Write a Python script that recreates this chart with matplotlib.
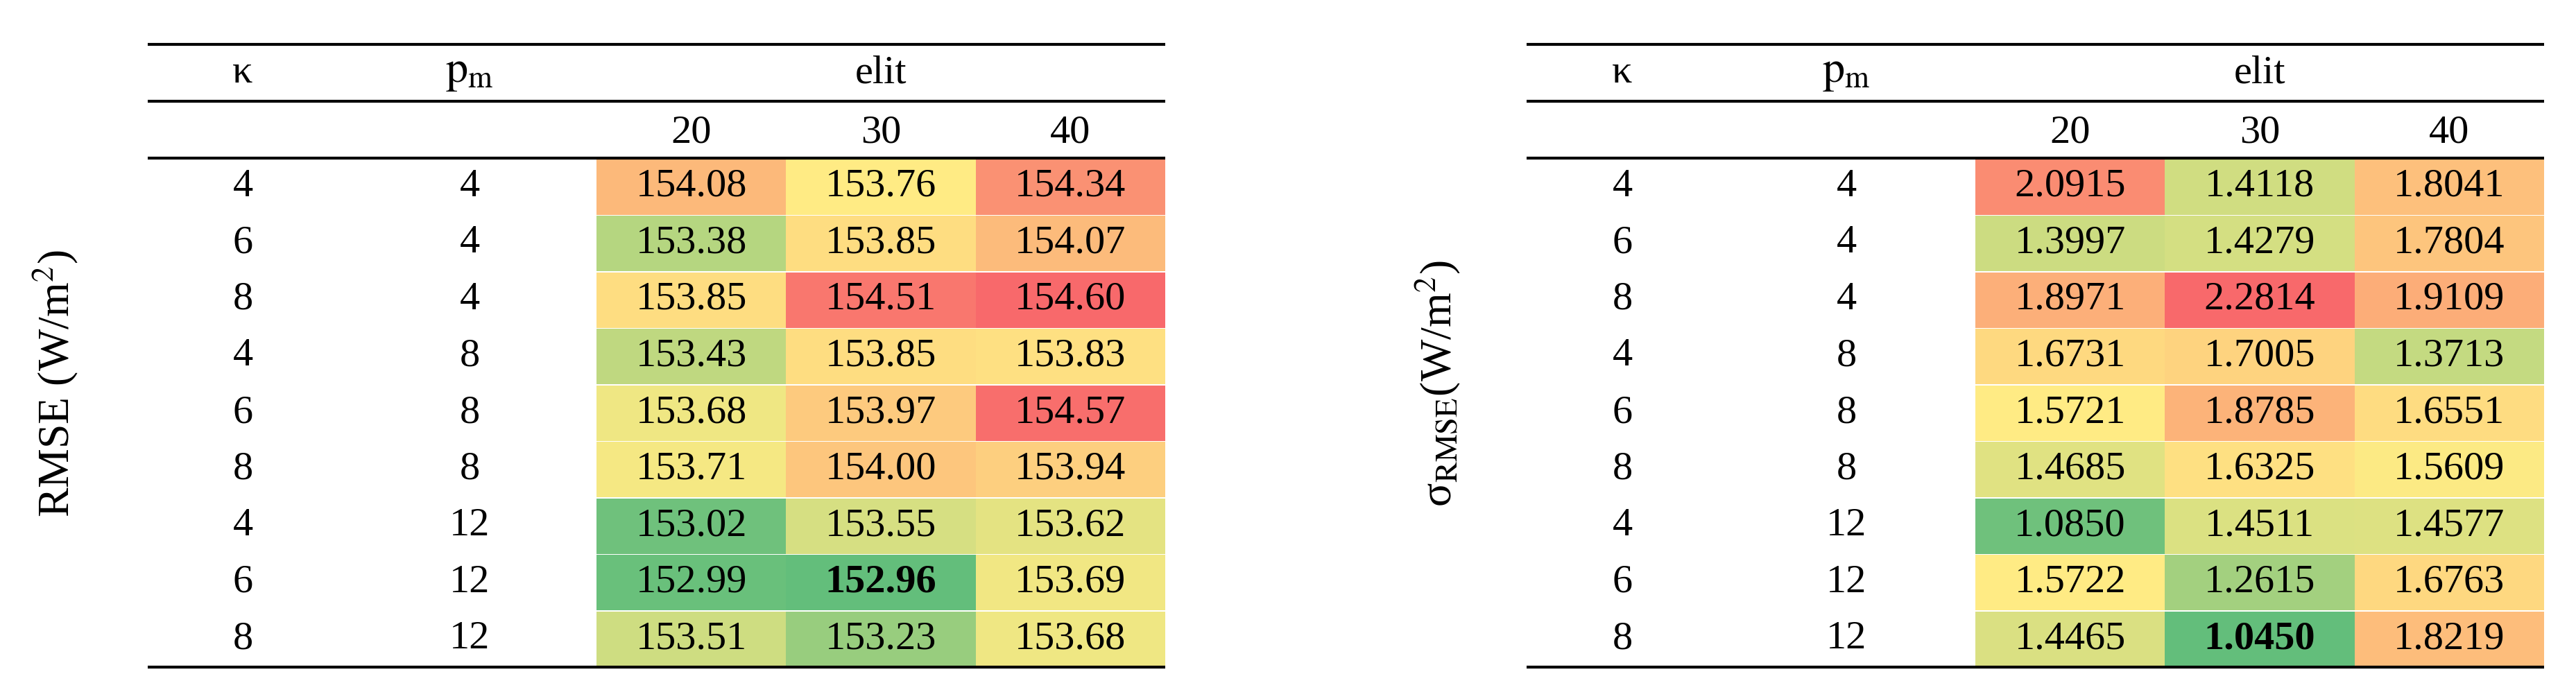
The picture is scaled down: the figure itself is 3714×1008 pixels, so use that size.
import matplotlib
matplotlib.use("Agg")
import matplotlib.pyplot as plt
import numpy as np
from matplotlib.colors import to_rgb

plt.rcParams['font.family'] = ['Liberation Serif', 'DejaVu Serif']
plt.rcParams['mathtext.fontset'] = 'stix'

kappa = [4, 6, 8, 4, 6, 8, 4, 6, 8]
pm = [4, 4, 4, 8, 8, 8, 12, 12, 12]
elit = [20, 30, 40]
rmse = [[154.08, 153.76, 154.34],
        [153.38, 153.85, 154.07],
        [153.85, 154.51, 154.60],
        [153.43, 153.85, 153.83],
        [153.68, 153.97, 154.57],
        [153.71, 154.00, 153.94],
        [153.02, 153.55, 153.62],
        [152.99, 152.96, 153.69],
        [153.51, 153.23, 153.68]]
sigma = [[2.0915, 1.4118, 1.8041],
         [1.3997, 1.4279, 1.7804],
         [1.8971, 2.2814, 1.9109],
         [1.6731, 1.7005, 1.3713],
         [1.5721, 1.8785, 1.6551],
         [1.4685, 1.6325, 1.5609],
         [1.0850, 1.4511, 1.4577],
         [1.5722, 1.2615, 1.6763],
         [1.4465, 1.0450, 1.8219]]

G, Y, R = np.array(to_rgb('#63BE7B')), np.array(to_rgb('#FFEB84')), np.array(to_rgb('#F8696B'))

def color(v, vals):
    lo, mid, hi = vals.min(), np.percentile(vals, 50), vals.max()
    if v <= mid:
        t = (v - lo) / (mid - lo)
        return G + (Y - G) * t
    t = (v - mid) / (hi - mid)
    return Y + (R - Y) * t

fig = plt.figure(figsize=(37.14, 10.08), dpi=100)
ax = fig.add_axes([0, 0, 1, 1])
ax.set_xlim(0, 3714)
ax.set_ylim(1008, 0)
ax.axis('off')

FS = 42
y_top, y_h1, y_h2, y_bot = 64, 146, 228, 962
rh = (y_bot - y_h2) / 9

def table(x0, x1, xc, xk, xp, xlab, data, label, fmt):
    vals = np.array(data)
    vmin = vals.min()
    cw = (x1 - xc) / 3
    for y in (y_top, y_h1, y_h2, y_bot):
        ax.plot([x0, x1], [y, y], color='black', lw=3, solid_capstyle='butt')
    ym = (y_top + y_h1) / 2
    ax.text(xk, ym, 'κ', ha='center', va='center', fontsize=FS)
    ax.text(xp, ym, r'$\mathrm{p}_{\mathrm{m}}$', ha='center', va='center', fontsize=FS+4)
    ax.text(xc + 1.5 * cw, ym, 'elit', ha='center', va='center', fontsize=FS)
    for j, e in enumerate(elit):
        ax.text(xc + (j + 0.5) * cw, (y_h1 + y_h2) / 2 + 4, str(e), ha='center', va='center', fontsize=FS)
    for i in range(9):
        yc = y_h2 + (i + 0.5) * rh
        ax.text(xk, yc, str(kappa[i]), ha='center', va='center', fontsize=FS)
        ax.text(xp, yc, str(pm[i]), ha='center', va='center', fontsize=FS)
        for j in range(3):
            v = data[i][j]
            ax.add_patch(plt.Rectangle((xc + j * cw, y_h2 + i * rh + 1.5), cw, rh - 1.5,
                                       facecolor=color(v, vals), edgecolor='none'))
            ax.text(xc + (j + 0.5) * cw, yc, fmt.format(v), ha='center', va='center', fontsize=FS,
                    fontweight='bold' if v == vmin else 'normal')
    ax.text(xlab, (y_top + y_bot) / 2 + 40, label, rotation=90, ha='center', va='center', fontsize=FS + 4)

table(213, 1680, 860, 350, 677, 80, rmse, 'RMSE (W/m$^2$)', '{:.2f}')
table(2201, 3668, 2848, 2339, 2662, 2073, sigma, r'σ$_{\mathrm{RMSE}}$(W/m$^2$)', '{:.4f}')

fig.savefig('out.png', dpi=100)
